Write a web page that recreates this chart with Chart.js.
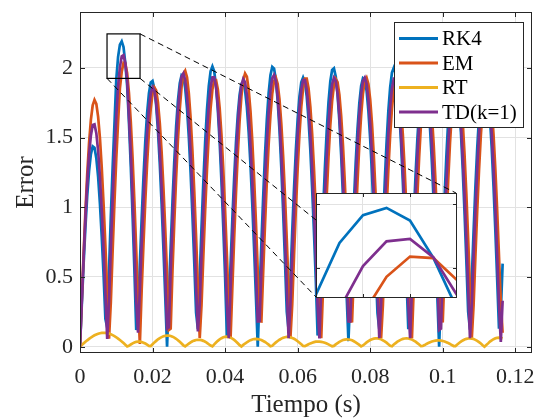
<!DOCTYPE html>
<html>
<head>
<meta charset="utf-8">
<script src="https://cdn.jsdelivr.net/npm/chart.js@4.4.1/dist/chart.umd.min.js"></script>
<style>
  html, body { margin: 0; padding: 0; background: #fff; }
  #wrap { position: relative; width: 536px; height: 420px; }
  #mainChart { position: absolute; left: 0; top: 0; }
  #insetChart { position: absolute; left: 316px; top: 193px; }
</style>
</head>
<body>
<div id="wrap">
  <canvas id="mainChart" width="536" height="420"></canvas>
  <canvas id="insetChart" width="141" height="105"></canvas>
</div>
<script>
// muestreo de la simulacion (s)
const dt = 0.0005;

const seriesNames = ["RK4", "EM", "RT", "TD(k=1)"];
const seriesColors = ["#0072BD", "#D95319", "#EDB120", "#7E2F8E"];

const rk4 = [
  0, 0.305, 0.596, 0.861, 1.086, 1.261, 1.381, 1.436, 1.426, 1.352, 1.217, 1.024, 0.786, 0.514, 0.2,
  0.138, 0.547, 0.937, 1.287, 1.597, 1.915, 2.078, 2.166, 2.189, 2.149, 2.03, 1.87, 1.604, 1.293, 0.937, 0.547, 0.12,
  0.239, 0.59, 0.92, 1.217, 1.472, 1.674, 1.817, 1.895, 1.906, 1.85, 1.728, 1.545, 1.307, 1.023, 0.703, 0.358, 0,
  0.365, 0.718, 1.045, 1.335, 1.578, 1.764, 1.889, 1.946, 1.935, 1.855, 1.709, 1.502, 1.243, 0.94, 0.603, 0.244,
  0.126, 0.5, 0.856, 1.181, 1.465, 1.697, 1.869, 1.974, 2.01, 1.974, 1.869, 1.697, 1.465, 1.181, 0.856, 0.5, 0.07,
  0.238, 0.587, 0.915, 1.211, 1.464, 1.665, 1.807, 1.885, 1.896, 1.84, 1.719, 1.537, 1.301, 1.018, 0.699, 0.356, 0,
  0.377, 0.74, 1.077, 1.376, 1.626, 1.819, 1.947, 2.006, 1.994, 1.912, 1.761, 1.549, 1.281, 0.968, 0.621, 0.252,
  0.121, 0.48, 0.822, 1.134, 1.407, 1.63, 1.795, 1.896, 1.93, 1.896, 1.795, 1.63, 1.407, 1.134, 0.822, 0.48, 0.08,
  0.251, 0.618, 0.964, 1.275, 1.541, 1.753, 1.902, 1.984, 1.996, 1.937, 1.81, 1.618, 1.369, 1.072, 0.736, 0.375, 0.04,
  0.362, 0.71, 1.034, 1.321, 1.561, 1.746, 1.869, 1.926, 1.915, 1.836, 1.691, 1.487, 1.23, 0.93, 0.596, 0.242,
  0.126, 0.497, 0.852, 1.176, 1.458, 1.689, 1.86, 1.965, 2.0, 1.965, 1.86, 1.689, 1.458, 1.176, 0.852, 0.497, 0.126,
  0.242, 0.596, 0.93, 1.23, 1.487, 1.691, 1.836, 1.915, 1.926, 1.869, 1.746, 1.561, 1.321, 1.034, 0.71, 0.362, 0,
  0.375, 0.736, 1.072, 1.369, 1.618, 1.81, 1.937, 1.996, 1.984, 1.902, 1.753, 1.541, 1.275, 0.964, 0.618, 0.251,
  0.122, 0.485, 0.83, 1.146, 1.422, 1.646, 1.813, 1.915, 1.95, 1.915, 1.813, 1.646, 1.422, 1.146, 0.83, 0.485, 0.13,
  0.25, 0.596
];

const em = [
  0, 0.342, 0.671, 0.974, 1.241, 1.462, 1.627, 1.731, 1.77, 1.742, 1.648, 1.494, 1.281, 1.021, 0.724, 0.4, 0.058,
  0.319, 0.691, 1.038, 1.349, 1.612, 1.853, 1.971, 2.035, 2.03, 1.961, 1.818, 1.612, 1.349, 1.038, 0.691, 0.319, 0.02,
  0.406, 0.739, 1.046, 1.315, 1.538, 1.707, 1.815, 1.859, 1.837, 1.75, 1.601, 1.395, 1.14, 0.844, 0.519, 0.12,
  0.13, 0.552, 0.899, 1.214, 1.485, 1.704, 1.863, 1.956, 1.979, 1.932, 1.817, 1.638, 1.4, 1.113, 0.786, 0.432, 0.062,
  0.3, 0.65, 0.977, 1.27, 1.517, 1.711, 1.844, 1.912, 1.912, 1.844, 1.711, 1.517, 1.27, 0.977, 0.65, 0.3, 0.06,
  0.427, 0.778, 1.102, 1.386, 1.621, 1.799, 1.913, 1.959, 1.936, 1.844, 1.687, 1.47, 1.201, 0.89, 0.547, 0.184,
  0.182, 0.538, 0.876, 1.183, 1.448, 1.661, 1.816, 1.906, 1.929, 1.883, 1.771, 1.596, 1.365, 1.085, 0.766, 0.421, 0.061,
  0.302, 0.654, 0.982, 1.276, 1.525, 1.72, 1.853, 1.922, 1.922, 1.853, 1.72, 1.525, 1.276, 0.982, 0.654, 0.302, 0.061,
  0.419, 0.762, 1.079, 1.358, 1.588, 1.762, 1.874, 1.919, 1.896, 1.807, 1.653, 1.44, 1.177, 0.872, 0.536, 0.181,
  0.182, 0.538, 0.876, 1.183, 1.448, 1.661, 1.816, 1.906, 1.929, 1.883, 1.771, 1.596, 1.365, 1.085, 0.766, 0.421, 0.061,
  0.3, 0.65, 0.977, 1.27, 1.517, 1.711, 1.844, 1.912, 1.912, 1.844, 1.711, 1.517, 1.27, 0.977, 0.65, 0.3, 0.06,
  0.421, 0.766, 1.085, 1.365, 1.596, 1.771, 1.883, 1.929, 1.906, 1.816, 1.661, 1.448, 1.183, 0.876, 0.538, 0.182,
  0.183, 0.544, 0.885, 1.195, 1.463, 1.678, 1.835, 1.926, 1.949, 1.903, 1.79, 1.613, 1.379, 1.096, 0.774, 0.425, 0.061,
  0.3, 0.65, 0.977, 1.27, 1.517, 1.711, 1.844, 1.912, 1.912, 1.844, 1.711, 1.517, 1.27, 0.977, 0.65, 0.32, 0.1
];

const rt = [
  0, 0.012, 0.024, 0.035, 0.046, 0.056, 0.066, 0.074, 0.082, 0.088, 0.093, 0.097, 0.099, 0.1, 0.099, 0.097, 0.094, 0.089, 0.083, 0.076, 0.068, 0.058, 0.048, 0.038, 0.026, 0.014, 0.002,
  0.007, 0.016, 0.024, 0.03, 0.035, 0.037, 0.037, 0.034, 0.029, 0.023, 0.015, 0.006,
  0.005, 0.018, 0.031, 0.042, 0.053, 0.062, 0.069, 0.075, 0.078, 0.08, 0.079, 0.077, 0.072, 0.065, 0.057, 0.047, 0.035, 0.023, 0.01,
  0.002, 0.012, 0.022, 0.031, 0.039, 0.044, 0.048, 0.05, 0.049, 0.047, 0.042, 0.036, 0.028, 0.018, 0.008,
  0.003, 0.017, 0.03, 0.042, 0.053, 0.061, 0.068, 0.071, 0.072, 0.07, 0.065, 0.058, 0.049, 0.038, 0.025, 0.011,
  0.002, 0.013, 0.023, 0.032, 0.04, 0.047, 0.052, 0.055, 0.056, 0.055, 0.052, 0.048, 0.041, 0.034, 0.025, 0.015, 0.004,
  0.007, 0.019, 0.031, 0.041, 0.05, 0.058, 0.064, 0.068, 0.07, 0.07, 0.067, 0.063, 0.057, 0.049, 0.039, 0.029, 0.017, 0.005,
  0.004, 0.011, 0.018, 0.024, 0.029, 0.033, 0.036, 0.037, 0.037, 0.035, 0.032, 0.028, 0.023, 0.017, 0.01, 0.003,
  0.006, 0.017, 0.026, 0.035, 0.042, 0.048, 0.051, 0.053, 0.052, 0.05, 0.046, 0.039, 0.031, 0.022, 0.013, 0.002,
  0.009, 0.02, 0.031, 0.04, 0.048, 0.054, 0.058, 0.06, 0.06, 0.057, 0.053, 0.046, 0.038, 0.029, 0.018, 0.007,
  0.004, 0.016, 0.026, 0.036, 0.044, 0.051, 0.056, 0.059, 0.06, 0.059, 0.056, 0.051, 0.044, 0.036, 0.026, 0.016, 0.004,
  0.005, 0.012, 0.02, 0.026, 0.032, 0.037, 0.041, 0.044, 0.045, 0.045, 0.044, 0.041, 0.037, 0.032, 0.026, 0.02, 0.012, 0.005,
  0.005, 0.016, 0.027, 0.036, 0.045, 0.052, 0.056, 0.059, 0.06, 0.058, 0.055, 0.049, 0.042, 0.033, 0.023, 0.011, 0,
  0.012, 0.024, 0.037, 0.046, 0.054, 0.06, 0.064, 0.065, 0.064, 0.06
];

const td = [
  0, 0.329, 0.643, 0.931, 1.179, 1.377, 1.515, 1.589, 1.594, 1.531, 1.404, 1.216, 0.976, 0.694, 0.383, 0.056,
  0.327, 0.708, 1.064, 1.382, 1.652, 1.869, 2.005, 2.083, 2.091, 2.032, 1.913, 1.652, 1.382, 1.064, 0.708, 0.327, 0.1,
  0.406, 0.739, 1.046, 1.315, 1.538, 1.707, 1.815, 1.859, 1.837, 1.75, 1.601, 1.395, 1.14, 0.844, 0.519, 0.13,
  0.14, 0.547, 0.89, 1.201, 1.47, 1.687, 1.844, 1.936, 1.959, 1.913, 1.799, 1.621, 1.386, 1.102, 0.778, 0.427, 0.11,
  0.303, 0.657, 0.987, 1.283, 1.533, 1.729, 1.863, 1.931, 1.931, 1.863, 1.729, 1.533, 1.283, 0.987, 0.657, 0.303, 0.061,
  0.419, 0.762, 1.079, 1.358, 1.588, 1.762, 1.874, 1.919, 1.896, 1.807, 1.653, 1.44, 1.177, 0.872, 0.536, 0.181,
  0.183, 0.544, 0.885, 1.195, 1.463, 1.678, 1.835, 1.926, 1.949, 1.903, 1.79, 1.613, 1.379, 1.096, 0.774, 0.425, 0.061,
  0.3, 0.65, 0.977, 1.27, 1.517, 1.711, 1.844, 1.912, 1.912, 1.844, 1.711, 1.517, 1.27, 0.977, 0.65, 0.3, 0.06,
  0.421, 0.766, 1.085, 1.365, 1.596, 1.771, 1.883, 1.929, 1.906, 1.816, 1.661, 1.448, 1.183, 0.876, 0.538, 0.182,
  0.182, 0.538, 0.876, 1.183, 1.448, 1.661, 1.816, 1.906, 1.929, 1.883, 1.771, 1.596, 1.365, 1.085, 0.766, 0.421, 0.061,
  0.302, 0.654, 0.982, 1.276, 1.525, 1.72, 1.853, 1.922, 1.922, 1.853, 1.72, 1.525, 1.276, 0.982, 0.654, 0.302, 0.061,
  0.421, 0.766, 1.085, 1.365, 1.596, 1.771, 1.883, 1.929, 1.906, 1.816, 1.661, 1.448, 1.183, 0.876, 0.538, 0.12,
  0.13, 0.538, 0.876, 1.183, 1.448, 1.661, 1.816, 1.906, 1.929, 1.883, 1.771, 1.596, 1.365, 1.085, 0.766, 0.421, 0.061,
  0.302, 0.654, 0.982, 1.276, 1.525, 1.72, 1.853, 1.922, 1.922, 1.853, 1.72, 1.525, 1.276, 0.982, 0.654, 0.302, 0.035,
  0.33
];

const xTicks = [0, 0.02, 0.04, 0.06, 0.08, 0.1, 0.12];
const yTicks = [0, 0.5, 1, 1.5, 2];
const insetXTicks = [0.011, 0.012];
const insetYTicks = [2.0, 2.2];

const serif = "'Liberation Serif', 'Times New Roman', serif";
const axisColor = "#262626";
const gridColor = "#e2e2e2";

// recuadro de zoom (en unidades de datos) y posicion del inset (px)
const zoomBox = { x0: 0.00745, x1: 0.01655, y0: 1.924, y1: 2.243 };
const inset = { left: 316, top: 193, width: 140, height: 104 };

function buildDatasets(width) {
  return [rk4, em, rt, td].map((vals, i) => ({
    label: seriesNames[i],
    data: vals.map((v, k) => ({ x: k * dt, y: v })),
    borderColor: seriesColors[i],
    backgroundColor: seriesColors[i],
    borderWidth: width,
    pointRadius: 0,
    fill: false,
    tension: 0,
    order: 4 - i,
  }));
}

function drawFrame(chart, tickLen) {
  const { ctx, chartArea: a } = chart;
  const { x, y } = chart.scales;
  ctx.save();
  ctx.strokeStyle = axisColor;
  ctx.lineWidth = 1;
  ctx.beginPath();
  x.ticks.forEach((t) => {
    const px = Math.round(x.getPixelForValue(t.value)) + 0.5;
    ctx.moveTo(px, a.bottom);
    ctx.lineTo(px, a.bottom - tickLen);
    ctx.moveTo(px, a.top);
    ctx.lineTo(px, a.top + tickLen);
  });
  y.ticks.forEach((t) => {
    const py = Math.round(y.getPixelForValue(t.value)) + 0.5;
    ctx.moveTo(a.left, py);
    ctx.lineTo(a.left + tickLen, py);
    ctx.moveTo(a.right, py);
    ctx.lineTo(a.right - tickLen, py);
  });
  ctx.stroke();
  ctx.strokeRect(a.left + 0.5, a.top + 0.5, a.right - a.left - 1, a.bottom - a.top - 1);
  ctx.restore();
}

const mainOverlay = {
  id: "mainOverlay",
  afterDatasetsDraw(chart) {
    const { ctx } = chart;
    const { x, y } = chart.scales;
    drawFrame(chart, 5);

    // recuadro de zoom
    const bx0 = x.getPixelForValue(zoomBox.x0);
    const bx1 = x.getPixelForValue(zoomBox.x1);
    const by0 = y.getPixelForValue(zoomBox.y1);
    const by1 = y.getPixelForValue(zoomBox.y0);
    ctx.save();
    ctx.strokeStyle = "#000";
    ctx.lineWidth = 1.2;
    ctx.strokeRect(bx0, by0, bx1 - bx0, by1 - by0);

    // lineas discontinuas hacia el inset
    ctx.lineWidth = 1;
    ctx.setLineDash([6, 4]);
    ctx.beginPath();
    ctx.moveTo(bx1, by0);
    ctx.lineTo(inset.left + inset.width, inset.top);
    ctx.moveTo(bx0, by1);
    ctx.lineTo(inset.left, inset.top + inset.height);
    ctx.moveTo(bx1, by1);
    ctx.lineTo(inset.left, inset.top + 27);
    ctx.stroke();
    ctx.setLineDash([]);

    // leyenda
    const lg = { left: 394.5, top: 22.5, width: 129, height: 105 };
    ctx.fillStyle = "#fff";
    ctx.fillRect(lg.left, lg.top, lg.width, lg.height);
    ctx.strokeStyle = axisColor;
    ctx.lineWidth = 1;
    ctx.strokeRect(lg.left, lg.top, lg.width, lg.height);
    ctx.font = "21px " + serif;
    ctx.textBaseline = "middle";
    seriesNames.forEach((name, i) => {
      const yy = 38.5 + i * 24.5;
      ctx.strokeStyle = seriesColors[i];
      ctx.lineWidth = 3;
      ctx.beginPath();
      ctx.moveTo(399, yy);
      ctx.lineTo(438, yy);
      ctx.stroke();
      ctx.fillStyle = "#000";
      ctx.fillText(name, 442, yy + 1);
    });
    ctx.restore();
  },
};

const mainChart = new Chart(document.getElementById("mainChart"), {
  type: "line",
  data: { datasets: buildDatasets(2.7) },
  options: {
    responsive: false,
    animation: false,
    layout: { padding: { top: 12, right: 4, left: 0, bottom: 0 } },
    plugins: { legend: { display: false }, tooltip: { enabled: false } },
    scales: {
      x: {
        type: "linear",
        min: 0,
        max: 0.1246,
        afterBuildTicks: (s) => { s.ticks = xTicks.map((v) => ({ value: v })); },
        afterFit: (s) => { s.height = 67; s.paddingLeft = 0; s.paddingRight = 0; },
        grid: { color: gridColor, drawTicks: false },
        border: { display: false },
        ticks: {
          color: axisColor,
          font: { family: serif, size: 22 },
          padding: 11,
          maxRotation: 0,
          callback: (v) => String(+Number(v).toFixed(3)),
        },
        title: {
          display: true,
          text: "Tiempo (s)",
          color: axisColor,
          font: { family: serif, size: 25 },
          padding: { top: 0, bottom: 0 },
        },
      },
      y: {
        min: -0.045,
        max: 2.4,
        afterBuildTicks: (s) => { s.ticks = yTicks.map((v) => ({ value: v })); },
        afterFit: (s) => { s.width = 80; s.paddingTop = 0; s.paddingBottom = 0; },
        grid: { color: gridColor, drawTicks: false },
        border: { display: false },
        ticks: {
          color: axisColor,
          font: { family: serif, size: 22 },
          padding: 7,
          callback: (v) => String(+Number(v).toFixed(2)),
        },
        title: {
          display: true,
          text: "Error",
          color: axisColor,
          font: { family: serif, size: 25 },
          padding: { top: 11, bottom: 0 },
        },
      },
    },
  },
  plugins: [mainOverlay],
});

const insetOverlay = {
  id: "insetOverlay",
  beforeDraw(chart) {
    const { ctx, width, height } = chart;
    ctx.save();
    ctx.fillStyle = "#fff";
    ctx.fillRect(0, 0, width, height);
    ctx.restore();
  },
  afterDatasetsDraw(chart) {
    drawFrame(chart, 4);
  },
};

const insetChart = new Chart(document.getElementById("insetChart"), {
  type: "line",
  data: { datasets: buildDatasets(2.7) },
  options: {
    responsive: false,
    animation: false,
    layout: { padding: 0 },
    plugins: { legend: { display: false }, tooltip: { enabled: false } },
    scales: {
      x: {
        type: "linear",
        min: 0.010,
        max: 0.013,
        afterBuildTicks: (s) => { s.ticks = insetXTicks.map((v) => ({ value: v })); },
        afterFit: (s) => { s.height = 0; s.paddingLeft = 0; s.paddingRight = 0; },
        grid: { color: gridColor, drawTicks: false },
        border: { display: false },
        ticks: { display: false },
      },
      y: {
        min: 1.904,
        max: 2.236,
        afterBuildTicks: (s) => { s.ticks = insetYTicks.map((v) => ({ value: v })); },
        afterFit: (s) => { s.width = 0; s.paddingTop = 0; s.paddingBottom = 0; },
        grid: { color: gridColor, drawTicks: false },
        border: { display: false },
        ticks: { display: false },
      },
    },
  },
  plugins: [insetOverlay],
});
</script>
</body>
</html>
